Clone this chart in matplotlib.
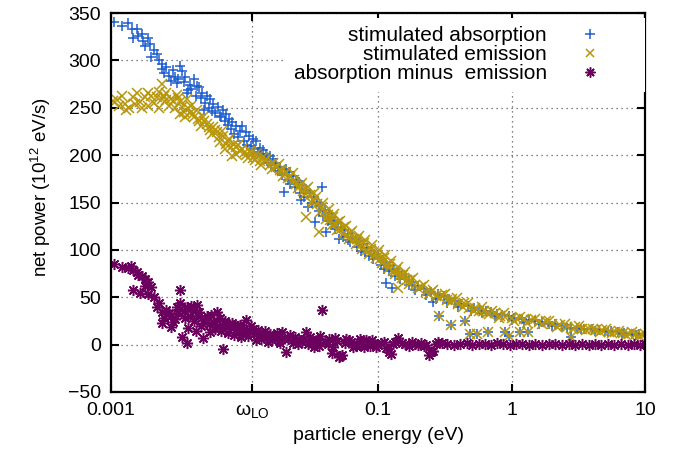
import numpy as np
import matplotlib
matplotlib.use("Agg")
import matplotlib.pyplot as plt

plt.rcParams['font.family'] = ['Liberation Sans', 'DejaVu Sans']
plt.rcParams['mathtext.fontset'] = 'custom'
plt.rcParams['mathtext.rm'] = 'Liberation Sans'
plt.rcParams['mathtext.it'] = 'Liberation Sans'
plt.rcParams['mathtext.bf'] = 'Liberation Sans'

# stimulated absorption (blue +)
abs_x = [0.00105, 0.00134, 0.00143, 0.00156, 0.00146, 0.0017, 0.00173, 0.0019, 0.00195, 0.0021,
         0.0022, 0.0024, 0.0024, 0.0026, 0.0028, 0.0030, 0.0031, 0.0033, 0.0034, 0.0036,
         0.0037, 0.0039, 0.0042, 0.0044, 0.0046, 0.0048, 0.0050, 0.0052, 0.0055, 0.0058,
         0.0063, 0.0065, 0.0069, 0.0073, 0.0077, 0.0081, 0.0087, 0.0092, 0.0096, 0.0103,
         0.0108, 0.0115, 0.0122, 0.0130, 0.0138, 0.0146, 0.0154, 0.0163, 0.0173, 0.0185,
         0.0198, 0.0206, 0.0216, 0.0230, 0.0245, 0.0257, 0.0265, 0.027, 0.029, 0.030,
         0.031, 0.033, 0.034, 0.035, 0.037, 0.038, 0.040, 0.041, 0.043, 0.045,
         0.045, 0.047, 0.050, 0.051, 0.053, 0.056, 0.060, 0.060, 0.064, 0.068,
         0.072, 0.077, 0.080, 0.082, 0.088, 0.094, 0.100, 0.107, 0.115, 0.115,
         0.120, 0.122, 0.127, 0.130, 0.140, 0.150, 0.160, 0.170, 0.170, 0.180,
         0.200, 0.220, 0.250, 0.260, 0.280, 0.285, 0.310, 0.340, 0.355, 0.380,
         0.420, 0.450, 0.470, 0.490, 0.520, 0.550, 0.580, 0.640, 0.670, 0.700,
         0.780, 0.850, 0.900, 0.950, 0.950, 1.05, 1.16, 1.20, 1.33, 1.35,
         1.50, 1.70, 1.90, 2.10, 2.40, 2.80, 2.80, 3.10, 3.50, 4.00,
         4.50, 5.00, 5.60, 6.30, 7.00, 8.00, 9.00, 10.0,
         0.0012, 0.0016, 0.0018, 0.0020, 0.0023, 0.0025, 0.0027, 0.0029, 0.0032, 0.0035,
         0.0038, 0.0040, 0.0043, 0.0047, 0.0051, 0.0054, 0.0057, 0.0060, 0.0067, 0.0071,
         0.0075, 0.0079, 0.0084, 0.0090, 0.0099, 0.0105, 0.0112, 0.0118, 0.0126, 0.0134,
         0.0142, 0.0150, 0.0158, 0.0168, 0.0178, 0.019, 0.021, 0.022, 0.024, 0.026,
         0.028, 0.032, 0.036, 0.039, 0.042, 0.048, 0.055, 0.062, 0.070, 0.075,
         0.085, 0.092, 0.105, 0.11, 0.135, 0.145, 0.19, 0.23, 0.27, 0.33,
         0.40, 0.50, 0.60, 0.75, 1.0, 1.25, 1.6, 2.0, 2.6, 3.3,
         4.2, 5.3, 6.7, 8.5]
abs_y = [341, 340, 333, 333, 324, 328, 320, 324, 317, 311,
         307, 296, 291, 293, 278, 283, 276, 294, 289, 283,
         266, 274, 280, 273, 272, 266, 248, 262, 259, 254,
         251, 241, 248, 243, 238, 235, 231, 225, 231, 224,
         220, 217, 215, 208, 205, 201, 199, 196, 192, 188,
         161, 185, 182, 178, 174, 172, 153, 168, 163, 145,
         160, 156, 129, 151, 147, 166, 142, 119, 139, 135,
         127, 131, 128, 111, 124, 121, 117, 110, 114, 112,
         109, 106, 98, 102, 99, 96, 93, 89, 86, 65,
         78, 83, 60, 80, 77, 74, 71, 68, 63, 66,
         62, 59, 56, 45, 53, 30, 51, 48, 21, 46,
         43, 25, 41, 11, 39, 11, 37, 35, 13, 34,
         32, 31, 13, 9, 30, 28, 13, 27, 13, 26,
         25, 24, 22, 22, 20, 18, 8, 18, 17, 16,
         15, 14, 14, 13, 12, 11, 11, 10,
         336, 326, 315, 304, 300, 287, 284, 290, 280, 277,
         269, 270, 262, 260, 255, 250, 247, 244, 240, 236,
         232, 228, 222, 219, 215, 211, 210, 207, 203, 200,
         197, 192, 190, 186, 183, 179, 174, 170, 166, 160,
         156, 150, 141, 136, 131, 122, 114, 108, 103, 99,
         94, 90, 84, 80, 72, 69, 58, 52, 48, 44,
         40, 36, 33, 30, 26, 24, 22, 20, 18, 16,
         14, 13, 11, 10]

# stimulated emission (gold x)
emi_x = [0.00104, 0.00115, 0.00127, 0.00137, 0.00146, 0.00156, 0.00164, 0.0018, 0.0019, 0.0020,
         0.0022, 0.0023, 0.0024, 0.0024, 0.0025, 0.0026, 0.0027, 0.0028, 0.0029, 0.0031,
         0.0033, 0.0033, 0.0035, 0.0037, 0.0039, 0.0040, 0.0042, 0.0044, 0.0046, 0.0049,
         0.0052, 0.0055, 0.0058, 0.0062, 0.0066, 0.0069, 0.0073, 0.0077, 0.0081, 0.0084,
         0.0087, 0.0087, 0.0092, 0.0096, 0.0103, 0.0109, 0.0115, 0.0122, 0.0130, 0.0138,
         0.0146, 0.0155, 0.0163, 0.0173, 0.0185, 0.0195, 0.0206, 0.022, 0.0235, 0.0244,
         0.026, 0.0275, 0.0289, 0.029, 0.031, 0.0325, 0.0344, 0.035, 0.036, 0.038,
         0.040, 0.042, 0.044, 0.046, 0.048, 0.050, 0.053, 0.056, 0.059, 0.062,
         0.066, 0.070, 0.074, 0.078, 0.083, 0.088, 0.093, 0.098, 0.104, 0.110,
         0.116, 0.123, 0.130, 0.137, 0.140, 0.145, 0.155, 0.165, 0.175, 0.19,
         0.21, 0.23, 0.25, 0.27, 0.285, 0.30, 0.33, 0.355, 0.36, 0.40,
         0.44, 0.45, 0.48, 0.49, 0.53, 0.55, 0.57, 0.62, 0.67, 0.68,
         0.75, 0.82, 0.90, 0.90, 0.95, 1.0, 1.1, 1.16, 1.25, 1.33,
         1.40, 1.6, 1.8, 2.0, 2.3, 2.6, 2.8, 3.0, 3.4, 3.8,
         4.3, 4.8, 5.4, 6.0, 6.8, 7.6, 8.5, 9.5, 10.0,
         0.0011, 0.0012, 0.0013, 0.0015, 0.0017, 0.0019, 0.0021, 0.0023, 0.0026, 0.0030,
         0.0032, 0.0034, 0.0036, 0.0038, 0.0041, 0.0045, 0.0047, 0.0050, 0.0054, 0.0057,
         0.0060, 0.0064, 0.0068, 0.0071, 0.0075, 0.0079, 0.0090, 0.0100, 0.0106, 0.0112,
         0.0119, 0.0126, 0.0134, 0.0142,
         0.016, 0.018, 0.019, 0.021, 0.023, 0.025, 0.027, 0.028, 0.030, 0.032,
         0.033, 0.037, 0.039, 0.041, 0.043, 0.045, 0.047, 0.049, 0.052, 0.055,
         0.058, 0.061, 0.064, 0.068, 0.072, 0.076, 0.080, 0.085, 0.090, 0.096,
         0.101, 0.107, 0.113, 0.120, 0.126, 0.133, 0.142, 0.150, 0.160, 0.170,
         0.182, 0.20, 0.22, 0.24, 0.26, 0.29, 0.32, 0.35, 0.39, 0.43,
         0.47, 0.52, 0.60, 0.65, 0.72, 0.80, 0.88, 1.05, 1.15, 1.3,
         1.5, 1.7, 1.9, 2.2, 2.5, 2.9, 3.2, 3.6, 4.1, 4.6,
         5.1, 5.7, 6.4, 7.2, 8.0, 9.0]
emi_y = [257, 252, 254, 250, 261, 266, 256, 261, 252, 262,
         261, 267, 259, 275, 262, 266, 252, 259, 257, 263,
         256, 243, 246, 259, 245, 252, 240, 248, 236, 240,
         233, 227, 230, 224, 214, 220, 212, 217, 199, 212,
         209, 201, 204, 206, 200, 204, 197, 201, 194, 198,
         196, 190, 192, 188, 184, 178, 182, 177, 174, 170,
         168, 162, 164, 135, 158, 153, 156, 148, 119, 145,
         140, 137, 132, 135, 127, 129, 122, 124, 116, 118,
         111, 112, 105, 107, 100, 101, 95, 97, 90, 91,
         85, 85, 78, 79, 60, 73, 74, 68, 68, 63,
         61, 56, 56, 51, 30, 52, 47, 21, 48, 43,
         44, 25, 39, 11, 39, 11, 35, 36, 13, 32,
         33, 30, 13, 29, 9, 28, 27, 13, 27, 13,
         26, 24, 25, 22, 21, 19, 8, 19, 17, 16,
         15, 15, 13, 13, 12, 11, 11, 10, 11,
         258, 262, 248, 254, 250, 266, 255, 250, 258, 250,
         260, 251, 240, 250, 243, 238, 231, 236, 230, 222,
         227, 219, 225, 207, 215, 209, 211, 203, 197, 202,
         195, 199, 190, 194,
         185, 191, 183, 176, 181, 165, 171, 158, 166, 150,
         160, 140, 150, 133, 143, 126, 138, 121, 131, 117,
         125, 112, 120, 106, 115, 101, 110, 96, 105, 91,
         100, 86, 95, 81, 88, 75, 82, 70, 77, 64,
         70, 60, 63, 53, 58, 49, 53, 45, 49, 40,
         44, 36, 40, 33, 35, 28, 33, 25, 29, 23,
         27, 22, 25, 19, 22, 17, 20, 15, 17, 13,
         16, 12, 14, 10, 13, 9]

# absorption minus emission (purple *)
net_x = [0.00105, 0.00134, 0.00140, 0.00146, 0.00146, 0.00156, 0.00164, 0.0017, 0.0018, 0.0019,
         0.0020, 0.0021, 0.0022, 0.0024, 0.0024, 0.0026, 0.0028, 0.0028, 0.0030, 0.0033,
         0.0033, 0.0034, 0.0037, 0.0037, 0.0039, 0.0041, 0.0044, 0.0046, 0.0049, 0.0052,
         0.0055, 0.0058, 0.0062, 0.0065, 0.0069, 0.0073, 0.0077, 0.0081, 0.0087, 0.0092,
         0.0096, 0.0103, 0.0108, 0.0115, 0.0122, 0.0130, 0.0138, 0.0146, 0.0155, 0.0160,
         0.0170, 0.0180, 0.0192, 0.0206, 0.0210, 0.0229, 0.0240, 0.0257, 0.0270, 0.0289,
         0.030, 0.0322, 0.034, 0.036, 0.038, 0.040, 0.043, 0.046, 0.049, 0.051,
         0.054, 0.057, 0.061, 0.065, 0.070, 0.075, 0.081, 0.087, 0.094, 0.10,
         0.11, 0.12, 0.13, 0.14, 0.15, 0.17, 0.19, 0.21, 0.23, 0.25,
         0.27, 0.30, 0.33, 0.37, 0.41, 0.46, 0.51, 0.57, 0.63, 0.70,
         0.78, 0.87, 0.97, 1.08, 1.2, 1.35, 1.5, 1.7, 1.9, 2.1,
         2.4, 2.7, 3.0, 3.4, 3.8, 4.2, 4.7, 5.3, 5.9, 6.6,
         7.4, 8.3, 9.2, 10.0,
         0.0012, 0.0016, 0.0018, 0.0019, 0.0023, 0.0025, 0.0027, 0.0029, 0.0031, 0.0032,
         0.0035, 0.0036, 0.0038, 0.0040, 0.0042, 0.0043, 0.0045, 0.0047, 0.0050, 0.0054,
         0.0056, 0.0060, 0.0064, 0.0067, 0.0071, 0.0075, 0.0079, 0.0084, 0.0089, 0.0094,
         0.0099, 0.0106, 0.0112, 0.0118, 0.0126, 0.0134, 0.0142, 0.0150, 0.0165, 0.0175,
         0.0186, 0.0198, 0.0220, 0.0250, 0.0280, 0.031, 0.033, 0.035, 0.037, 0.042,
         0.045, 0.048, 0.052, 0.058, 0.063, 0.068, 0.073, 0.078, 0.084, 0.090,
         0.097, 0.105, 0.115, 0.125, 0.135, 0.16, 0.18, 0.20, 0.22, 0.24,
         0.26, 0.28]
net_y = [85, 81, 83, 79, 58, 77, 55, 72, 69, 66,
         61, 50, 40, 34, 23, 37, 30, 19, 27, 58,
         44, 8.5, 40, 2, 30, 36, 42, 34, 7, 30,
         13, 24, 34, 28, -5, 19, 22, 23, 16, 21,
         13, 26, 14, 16, 5, 12, 10, 8, 11, 5,
         9, 4, 13, -8, 6, 2, 8, 5, 3, 13,
         1, 2, 4, -1, 37, 3, 6, -2, 4, -13,
         -11, 2, 5, -3, 1, 4, 5, -1, 2, 0,
         3, -8, 1, 7, 2, -1, 1, 2, 0, -8,
         1, 2, 1, 0, 1, 2, 0, 1, 1, 0,
         2, 1, 0, 1, 1, 0, 1, 0, 1, 1,
         0, 1, 0, 1, 0, 1, 0, 1, 0, 1,
         0, 1, 0, 1,
         82, 74, 62, 53, 44, 28, 33, 24, 40, 33,
         36, 28, 18, 41, 25, 14, 30, 20, 26, 22,
         31, 17, 20, 14, 25, 12, 18, 10, 20, 8,
         17, 9, 20, 11, 15, 6, 14, 3, 8, 12,
         2, 7, 10, 1, 6, 8, -2, 5, 9, 1,
         -9, 7, -12, 6, 3, -1, 6, -2, 3, 5,
         -2, 2, -4, -10, 3, 1, 3, 0, -1, -11,
         -7, 3]

w_lo = 0.0114
xtick_vals = [0.001, w_lo, 0.1, 1, 10]
xtick_labels = ['0.001', r'$\omega_{\rm LO}$', '0.1', '1', '10']
ytick_vals = [-50, 0, 50, 100, 150, 200, 250, 300, 350]

fig = plt.figure(figsize=(6.76, 4.61), dpi=100)
ax = fig.add_axes([0.1642, 0.1497, 0.790, 0.822])

ax.plot(abs_x, abs_y, linestyle='none', marker='+', ms=7.5, mew=1.1,
        color='#1f5fce', label='stimulated absorption')
ax.plot(emi_x, emi_y, linestyle='none', marker='x', ms=7, mew=1.1,
        color='#b8960a', label='stimulated emission')
ax.plot(net_x, net_y, linestyle='none', marker=(8, 2, 0), ms=8, mew=1.1,
        color='#6b005e', label='absorption minus  emission')

ax.set_xscale('log')
ax.set_xlim(0.001, 10)
ax.set_ylim(-50, 350)
ax.set_xticks(xtick_vals)
ax.set_xticklabels(xtick_labels)
ax.xaxis.set_minor_locator(matplotlib.ticker.NullLocator())
ax.set_yticks(ytick_vals)

ax.tick_params(which='both', direction='in', top=True, right=True,
               length=6, width=1.5, labelsize=14)
ax.tick_params(axis='x', pad=7)
ax.tick_params(axis='y', pad=7)
for s in ax.spines.values():
    s.set_linewidth(1.6)

ax.grid(True, color='0.35', linestyle=(0, (1, 3)), linewidth=0.9)
ax.set_axisbelow(True)

ax.set_xlabel('particle energy (eV)', fontsize=14, labelpad=5)
ax.set_ylabel(r'net power (10$^{12}$ eV/s)', fontsize=13.5)
ax.yaxis.set_label_coords(-0.108, 0.54)

leg = ax.legend(loc='upper right', bbox_to_anchor=(1.0, 0.987), markerfirst=False,
                numpoints=1, fontsize=15, handlelength=4.5, handletextpad=-0.2,
                borderpad=0.4, borderaxespad=0.0, labelspacing=0.0,
                frameon=True, fancybox=False, framealpha=1.0, markerscale=0.9)
leg.get_frame().set_edgecolor('none')
leg.get_frame().set_facecolor('white')

fig.savefig('out.png', dpi=100)
